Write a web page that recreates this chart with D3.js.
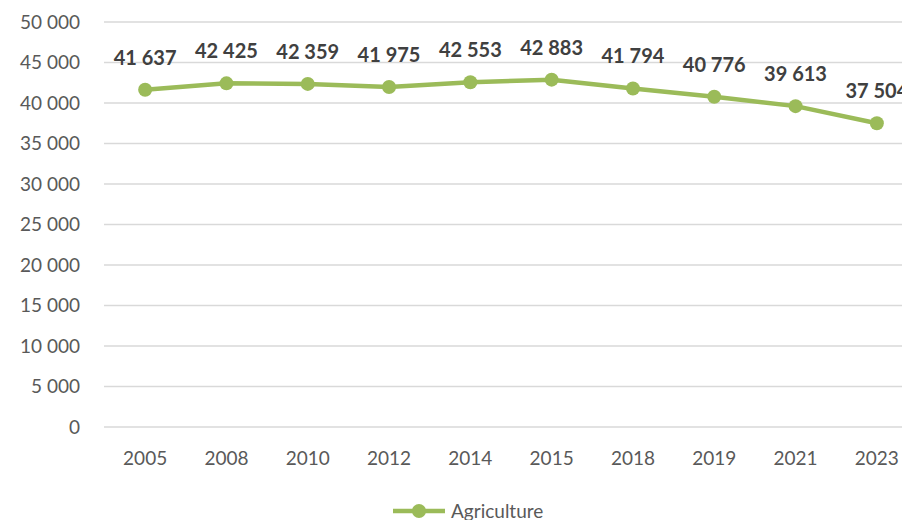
<!DOCTYPE html>
<html>
<head>
<meta charset="utf-8">
<script src="https://cdn.jsdelivr.net/npm/d3@7"></script>
<style>
  body { margin: 0; background: #fff; overflow: hidden; }
  svg { display: block; font-family: Lato, "Open Sans", sans-serif; }
</style>
</head>
<body>
<div id="chart"></div>
<script>
const years = ["2005", "2008", "2010", "2012", "2014", "2015", "2018", "2019", "2021", "2023"];
const agriculture = [41637, 42425, 42359, 41975, 42553, 42883, 41794, 40776, 39613, 37504];
const yTicks = [0, 5000, 10000, 15000, 20000, 25000, 30000, 35000, 40000, 45000, 50000];
const seriesName = "Agriculture";

const W = 902, H = 520;
const lineColor = "#9bbb59";
const fmt = v => d3.format(",")(v).replace(/,/g, " ");

const svg = d3.select("#chart").append("svg")
  .attr("width", W)
  .attr("height", H);

const x = d3.scaleBand()
  .domain(years)
  .range([104.5, 917.5]);

const y = d3.scaleLinear()
  .domain([0, 50000])
  .range([427, 22]);

// gridlines
svg.append("g")
  .selectAll("line")
  .data(yTicks)
  .join("line")
  .attr("x1", 104)
  .attr("x2", W)
  .attr("y1", d => y(d))
  .attr("y2", d => y(d))
  .attr("stroke", "#d9d9d9")
  .attr("stroke-width", 1.5);

// y labels
svg.append("g")
  .selectAll("text")
  .data(yTicks)
  .join("text")
  .attr("x", 80)
  .attr("y", d => y(d))
  .attr("dy", "0.35em")
  .attr("text-anchor", "end")
  .attr("font-size", "19px")
  .attr("fill", "#595959")
  .text(fmt);

// x labels
svg.append("g")
  .selectAll("text")
  .data(years)
  .join("text")
  .attr("x", d => x(d) + x.bandwidth() / 2)
  .attr("y", 465)
  .attr("text-anchor", "middle")
  .attr("font-size", "19px")
  .attr("fill", "#595959")
  .text(d => d);

const pts = years.map((yr, i) => ({ yr, v: agriculture[i] }));
const cx = d => x(d.yr) + x.bandwidth() / 2;

svg.append("path")
  .datum(pts)
  .attr("fill", "none")
  .attr("stroke", lineColor)
  .attr("stroke-width", 4.5)
  .attr("stroke-linejoin", "round")
  .attr("d", d3.line().x(cx).y(d => y(d.v)));

svg.append("g")
  .selectAll("circle")
  .data(pts)
  .join("circle")
  .attr("cx", cx)
  .attr("cy", d => y(d.v))
  .attr("r", 7)
  .attr("fill", lineColor);

// data labels
svg.append("g")
  .selectAll("text")
  .data(pts)
  .join("text")
  .attr("x", cx)
  .attr("y", d => y(d.v) - 25)
  .attr("text-anchor", "middle")
  .attr("font-size", "20px")
  .attr("font-weight", "bold")
  .attr("fill", "#404040")
  .text(d => fmt(d.v));

// legend
const lg = svg.append("g");
lg.append("line")
  .attr("x1", 393).attr("x2", 445)
  .attr("y1", 511).attr("y2", 511)
  .attr("stroke", lineColor)
  .attr("stroke-width", 4.5);
lg.append("circle")
  .attr("cx", 419).attr("cy", 511).attr("r", 7)
  .attr("fill", lineColor);
lg.append("text")
  .attr("x", 451).attr("y", 518)
  .attr("font-size", "19px")
  .attr("fill", "#595959")
  .text(seriesName);
</script>
</body>
</html>
